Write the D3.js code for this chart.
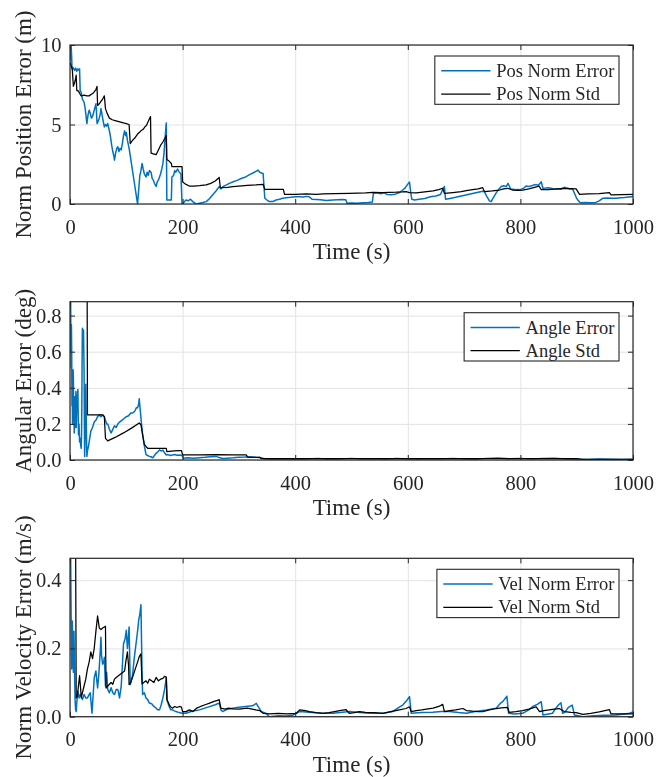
<!DOCTYPE html>
<html>
<head>
<meta charset="utf-8">
<script src="https://cdn.jsdelivr.net/npm/d3@7"></script>
<style>
  html, body { margin: 0; padding: 0; background: #fff; }
  svg { display: block; filter: blur(0.3px); }
  text { font-family: "Liberation Serif", "Times New Roman", serif; fill: #262626; }
</style>
</head>
<body>
<svg id="chart" width="656" height="777"></svg>
<script>
// ---- shared axis settings ----
const timeDomain = [0, 1000];
const timeTicks = [0, 200, 400, 600, 800, 1000];
const xLabel = "Time (s)";

// ---- panel 1: position ----
const posTicks = [0, 5, 10];
const posDomain = [0, 10];
const posLabel = "Norm Position Error (m)";
const posNames = ["Pos Norm Error", "Pos Norm Std"];
const posError = [[0,9.0],[1,9.6],[2,10.0],[3,9.2],[3.5,8.5],[5,8.6],[8,8.4],[10,8.55],[12,8.35],[14,8.5],[16,8.4],[17,8.5],[18,7.15],[20,7.0],[22,6.6],[25,6.4],[27,6.0],[30,5.06],[32,5.6],[34,5.9],[36,5.7],[38,5.4],[40,5.5],[43,5.9],[46,6.3],[47,5.8],[48,5.06],[50,5.2],[52,5.4],[54,5.7],[55,6.0],[57,5.6],[59,5.2],[61,4.85],[63,5.0],[65,4.9],[67,5.06],[70,4.6],[72,4.2],[74,3.7],[76,3.3],[78,3.0],[79,2.76],[81,3.2],[83,3.5],[85,3.6],[87,3.3],[89,3.5],[91,3.4],[93,3.8],[95,4.3],[97,4.6],[99,4.3],[100,4.5],[102,4.0],[105,3.5],[108,2.8],[111,2.1],[114,1.4],[117,0.7],[120,0.0],[122,0.9],[124,1.8],[126,2.1],[128,2.55],[130,2.2],[132,1.9],[135,1.7],[137,2.0],[139,1.8],[141,2.1],[144,2.0],[146,1.6],[148,1.5],[150,1.3],[153,1.1],[155,1.4],[157,1.5],[159,1.7],[161,1.9],[163,2.2],[165,2.55],[167,3.2],[169,4.2],[171,5.1],[172,0.25],[180,0.25],[181,1.7],[184,1.8],[186,2.1],[188,2.0],[191,2.2],[194,2.0],[197,1.9],[199,0.0],[202,0.1],[206,0.25],[210,0.2],[214,0.3],[218,0.15],[222,0.05],[224,0.0],[230,0.05],[236,0.1],[242,0.15],[248,0.35],[254,0.6],[260,0.85],[265,1.09],[268,0.95],[272,1.1],[278,1.2],[283,1.3],[290,1.4],[298,1.5],[305,1.62],[312,1.7],[319,1.85],[325,1.95],[330,2.05],[334,2.13],[337,2.0],[340,1.95],[343,1.92],[346,0.36],[350,0.25],[354,0.15],[360,0.15],[366,0.25],[372,0.3],[378,0.36],[384,0.4],[392,0.42],[400,0.45],[408,0.46],[415,0.44],[420,0.48],[425,0.45],[430,0.3],[437,0.29],[445,0.27],[455,0.22],[467,0.25],[475,0.27],[484,0.28],[490,0.26],[492,0.05],[500,0.07],[510,0.05],[520,0.08],[530,0.1],[537,0.12],[539,0.68],[545,0.7],[552,0.65],[558,0.7],[563,0.6],[570,0.58],[578,0.62],[585,0.72],[590,0.85],[595,1.0],[600,1.25],[603,1.38],[605,0.8],[607,0.3],[612,0.25],[620,0.3],[630,0.35],[640,0.45],[650,0.5],[658,0.6],[662,0.9],[665,1.1],[667,0.3],[675,0.35],[685,0.42],[695,0.5],[705,0.58],[715,0.66],[725,0.74],[733,0.8],[736,0.78],[740,0.5],[745,0.2],[748,0.15],[752,0.4],[757,0.7],[762,0.95],[766,1.1],[770,1.15],[775,1.1],[778,1.3],[780,1.15],[783,0.92],[787,0.93],[792,0.9],[796,0.92],[799,0.88],[803,0.95],[806,1.0],[810,1.13],[815,1.1],[820,1.15],[824,1.2],[828,1.22],[832,1.18],[835,1.3],[837,1.4],[840,0.99],[845,1.0],[850,1.02],[858,0.96],[865,0.95],[872,0.92],[875,1.0],[878,1.05],[882,1.0],[888,0.95],[893,0.92],[897,0.6],[900,0.35],[902,0.25],[905,0.12],[908,0.08],[915,0.09],[925,0.08],[934,0.1],[940,0.2],[946,0.36],[955,0.37],[963,0.36],[970,0.36],[978,0.4],[985,0.41],[992,0.44],[997,0.46],[1000,0.47]];
const posStd = [[0,8.9],[2,8.7],[4,8.5],[6,7.4],[8,7.6],[10,7.9],[11,8.1],[12,7.15],[15,7.1],[18,6.9],[20,6.8],[25,6.85],[30,6.8],[34,6.8],[38,6.9],[42,7.0],[46,7.2],[48,7.4],[49,6.2],[52,6.3],[55,6.45],[58,6.6],[61,6.8],[63,6.0],[66,5.7],[70,5.4],[75,5.3],[80,5.25],[85,5.2],[90,5.15],[95,5.1],[100,5.06],[105,5.0],[107,3.8],[110,3.95],[115,4.15],[120,4.4],[123,4.5],[126,4.6],[130,4.7],[133,4.85],[136,4.95],[139,5.2],[143,5.5],[144,3.2],[148,3.15],[153,3.1],[157,3.4],[161,3.7],[165,3.9],[168,4.1],[171,4.3],[172,2.8],[176,2.7],[180,2.55],[181,2.35],[190,2.35],[199,2.35],[200,1.4],[205,1.25],[212,1.13],[220,1.12],[230,1.15],[242,1.2],[250,1.3],[258,1.45],[265,1.67],[267,1.03],[280,1.05],[289,1.09],[300,1.12],[315,1.17],[330,1.2],[343,1.24],[346,0.92],[360,0.92],[379,0.92],[381,0.61],[400,0.61],[420,0.63],[437,0.61],[450,0.63],[470,0.65],[496,0.67],[510,0.68],[525,0.7],[538,0.73],[555,0.72],[579,0.74],[590,0.76],[597,0.78],[603,0.72],[615,0.7],[630,0.76],[645,0.82],[655,0.9],[662,0.99],[665,0.67],[680,0.72],[695,0.78],[704,0.84],[715,0.9],[725,0.95],[733,1.03],[736,0.78],[750,0.82],[763,0.88],[770,0.95],[777,0.99],[786,0.88],[795,0.85],[804,0.87],[815,0.95],[825,1.05],[833,1.13],[837,0.9],[850,0.9],[865,0.95],[878,0.99],[890,0.97],[899,0.95],[905,0.61],[920,0.63],[940,0.66],[958,0.71],[961,0.57],[980,0.59],[1000,0.61]];

// ---- panel 2: attitude ----
const angTicks = [0, 0.2, 0.4, 0.6, 0.8];
const angDomain = [0, 0.877];
const angLabel = "Angular Error (deg)";
const angNames = ["Angle Error", "Angle Std"];
const angError = [[0,1.2],[0.5,0.6],[1,0.95],[1.5,0.7],[2,0.51],[2.5,0.75],[3,0.6],[3.5,0.3],[4,0.4],[4.5,0.2],[5,0.33],[5.5,0.5],[6,0.45],[6.5,0.25],[7,0.3],[7.5,0.15],[8,0.21],[8.5,0.35],[9,0.3],[9.5,0.18],[10,0.25],[10.5,0.38],[11,0.18],[12,0.3],[13,0.35],[14,0.39],[14.5,0.25],[15,0.14],[16,0.2],[17,0.1],[18,0.12],[19,0.08],[20,0.065],[20.5,0.15],[21,0.3],[21.5,0.55],[22,0.73],[23,0.68],[24,0.72],[24.5,0.6],[25,0.5],[25.5,0.2],[26,0.02],[26.5,0.1],[27,0.2],[27.5,0.3],[28,0.42],[28.5,0.3],[29,0.2],[29.5,0.08],[30,0.02],[31,0.05],[33,0.08],[35,0.12],[37,0.16],[40,0.18],[43,0.21],[46,0.22],[49,0.24],[52,0.25],[55,0.24],[58,0.25],[61,0.24],[63,0.22],[65,0.2],[67,0.2],[70,0.17],[73,0.15],[76,0.17],[79,0.19],[82,0.18],[85,0.2],[88,0.21],[92,0.22],[96,0.23],[100,0.24],[104,0.245],[108,0.26],[111,0.26],[115,0.27],[118,0.29],[120,0.29],[122,0.31],[123,0.34],[124,0.3],[125,0.27],[127,0.2],[129,0.14],[132,0.08],[135,0.03],[138,0.025],[141,0.02],[144,0.018],[147,0.012],[150,0.025],[153,0.037],[156,0.045],[159,0.056],[162,0.05],[165,0.055],[168,0.04],[171,0.028],[174,0.03],[178,0.025],[182,0.028],[186,0.03],[190,0.026],[195,0.028],[199,0.025],[201,0.01],[210,0.012],[220,0.01],[230,0.013],[240,0.015],[250,0.018],[260,0.02],[266,0.012],[271,0.008],[280,0.01],[290,0.012],[300,0.015],[310,0.016],[319,0.018],[330,0.015],[337,0.014],[342,0.01],[348,0.005],[365,0.004],[380,0.006],[400,0.003],[420,0.005],[440,0.008],[460,0.004],[480,0.006],[500,0.009],[520,0.005],[540,0.007],[560,0.004],[580,0.008],[600,0.006],[620,0.004],[640,0.007],[660,0.005],[680,0.008],[700,0.006],[720,0.004],[740,0.009],[760,0.011],[780,0.007],[800,0.009],[820,0.006],[840,0.008],[860,0.01],[880,0.006],[900,0.004],[920,0.003],[940,0.005],[960,0.004],[980,0.003],[1000,0.004]];
const angStd = [[0,1.5],[30,1.5],[31,0.25],[40,0.25],[50,0.25],[58,0.25],[61,0.24],[63,0.12],[67,0.106],[80,0.125],[95,0.15],[110,0.178],[123,0.205],[126,0.195],[129,0.14],[132,0.087],[135,0.075],[138,0.065],[150,0.064],[160,0.065],[171,0.065],[172,0.047],[185,0.05],[194,0.052],[198,0.052],[200,0.028],[230,0.028],[260,0.03],[290,0.028],[313,0.028],[316,0.015],[337,0.015],[340,0.0075],[400,0.007],[500,0.007],[600,0.008],[700,0.007],[800,0.008],[900,0.007],[910,0.004],[1000,0.004]];

// ---- panel 3: velocity ----
const velTicks = [0, 0.2, 0.4];
const velDomain = [0, 0.464];
const velLabel = "Norm Velocity Error (m/s)";
const velNames = ["Vel Norm Error", "Vel Norm Std"];
const velError = [[0,0.6],[1,0.5],[2,0.29],[3,0.14],[4,0.28],[5,0.2],[6,0.13],[7,0.25],[8,0.14],[9,0.05],[10,0.02],[11,0.015],[12,0.04],[14,0.075],[16,0.055],[18,0.065],[20,0.06],[22,0.05],[25,0.065],[28,0.055],[31,0.055],[34,0.065],[36,0.07],[38,0.03],[39,0.01],[41,0.06],[43,0.114],[46,0.134],[48,0.1],[49,0.084],[51,0.12],[52,0.144],[54,0.2],[55,0.233],[56,0.18],[58,0.154],[60,0.16],[61,0.174],[63,0.09],[65,0.13],[67,0.08],[70,0.07],[73,0.085],[76,0.07],[79,0.065],[82,0.08],[85,0.08],[88,0.055],[91,0.09],[93,0.15],[95,0.213],[98,0.23],[100,0.253],[102,0.2],[104,0.24],[105,0.263],[107,0.094],[109,0.11],[111,0.12],[114,0.17],[117,0.21],[120,0.25],[122,0.283],[124,0.3],[126,0.328],[128,0.124],[129,0.065],[132,0.07],[135,0.055],[138,0.05],[141,0.04],[145,0.038],[149,0.03],[153,0.025],[156,0.02],[159,0.02],[162,0.035],[165,0.055],[168,0.08],[171,0.114],[173,0.045],[176,0.03],[179,0.02],[182,0.02],[188,0.015],[194,0.012],[199,0.01],[206,0.01],[215,0.015],[230,0.02],[245,0.028],[258,0.035],[265,0.04],[268,0.02],[271,0.015],[280,0.022],[289,0.025],[300,0.028],[312,0.03],[324,0.032],[331,0.039],[334,0.03],[340,0.015],[348,0.01],[354,0.0],[370,0.003],[385,0.002],[396,0.005],[408,0.015],[430,0.012],[450,0.01],[467,0.01],[480,0.012],[496,0.015],[515,0.012],[530,0.01],[545,0.01],[556,0.01],[573,0.015],[585,0.028],[591,0.034],[597,0.045],[603,0.059],[606,0.01],[625,0.012],[644,0.013],[660,0.015],[674,0.015],[690,0.012],[704,0.01],[720,0.015],[740,0.02],[757,0.025],[765,0.04],[769,0.045],[776,0.06],[779,0.01],[790,0.008],[804,0.01],[815,0.02],[822,0.03],[830,0.036],[837,0.044],[840,0.005],[850,0.008],[857,0.01],[863,0.025],[868,0.035],[872,0.041],[875,0.01],[880,0.015],[884,0.025],[888,0.03],[892,0.034],[896,0.005],[911,0.0],[930,0.003],[950,0.004],[970,0.005],[985,0.008],[994,0.01],[1000,0.014]];
const velStd = [[0,1.0],[9,1.0],[10,0.5],[11,0.055],[13,0.06],[15,0.09],[17,0.12],[19,0.08],[20,0.055],[22,0.07],[25,0.09],[28,0.11],[31,0.14],[34,0.16],[37,0.19],[40,0.17],[43,0.2],[46,0.25],[49,0.295],[52,0.26],[55,0.255],[58,0.26],[61,0.263],[63,0.265],[64,0.084],[67,0.09],[70,0.095],[73,0.1],[76,0.095],[79,0.11],[82,0.115],[86,0.12],[90,0.125],[94,0.13],[97,0.134],[99,0.16],[102,0.19],[104,0.15],[105,0.094],[108,0.1],[112,0.12],[116,0.14],[120,0.16],[123,0.176],[126,0.184],[128,0.096],[131,0.1],[135,0.105],[138,0.098],[141,0.11],[145,0.105],[149,0.1],[153,0.115],[157,0.105],[161,0.11],[165,0.112],[168,0.118],[171,0.116],[172,0.05],[175,0.04],[178,0.03],[182,0.025],[186,0.03],[190,0.027],[194,0.03],[198,0.028],[200,0.015],[206,0.015],[212,0.02],[218,0.015],[225,0.025],[232,0.03],[240,0.035],[248,0.04],[256,0.045],[262,0.048],[265,0.05],[268,0.025],[275,0.022],[282,0.025],[289,0.023],[300,0.022],[315,0.025],[330,0.02],[337,0.018],[343,0.01],[354,0.008],[370,0.01],[385,0.008],[402,0.01],[408,0.02],[418,0.018],[425,0.015],[437,0.012],[449,0.01],[460,0.012],[470,0.015],[479,0.018],[490,0.021],[496,0.01],[505,0.012],[514,0.015],[525,0.013],[540,0.012],[556,0.01],[570,0.015],[585,0.02],[597,0.024],[603,0.029],[606,0.015],[615,0.018],[625,0.02],[633,0.022],[645,0.025],[655,0.03],[662,0.036],[665,0.015],[675,0.018],[685,0.02],[698,0.024],[704,0.018],[715,0.016],[725,0.015],[733,0.015],[745,0.02],[757,0.024],[766,0.026],[777,0.027],[780,0.013],[792,0.015],[804,0.018],[815,0.022],[822,0.026],[828,0.029],[834,0.015],[842,0.018],[851,0.02],[860,0.022],[869,0.024],[878,0.015],[890,0.013],[899,0.012],[911,0.007],[925,0.01],[940,0.014],[950,0.018],[958,0.021],[961,0.008],[980,0.008],[998,0.008],[1000,0.008]];

// ---- styling ----
const errColor = "#0072BD";
const stdColor = "#000000";
const axisColor = "#262626";
const gridColor = "#e3e3e3";
const serif = '"Liberation Serif", "Times New Roman", serif';

const svg = d3.select("#chart");
const left = 70, right = 633;

const panels = [
  { top: 45,    bottom: 204,   domain: posDomain, ticks: posTicks, label: posLabel, names: posNames, err: posError, std: posStd, fmt: d3.format("d") },
  { top: 301.7, bottom: 460,   domain: angDomain, ticks: angTicks, label: angLabel, names: angNames, err: angError, std: angStd, fmt: d3.format(".1f") },
  { top: 558.3, bottom: 716.7, domain: velDomain, ticks: velTicks, label: velLabel, names: velNames, err: velError, std: velStd, fmt: d3.format(".1f") }
];

panels.forEach((p, i) => {
  const x = d3.scaleLinear().domain(timeDomain).range([left, right]);
  const y = d3.scaleLinear().domain(p.domain).range([p.bottom, p.top]);
  const w = right - left, h = p.bottom - p.top;
  const g = svg.append("g");

  // grid
  g.append("g").attr("transform", `translate(0,${p.bottom})`)
    .call(d3.axisBottom(x).tickValues(timeTicks).tickSize(-h).tickFormat(""))
    .call(s => { s.select(".domain").remove(); s.selectAll("line").attr("stroke", gridColor); });
  g.append("g").attr("transform", `translate(${left},0)`)
    .call(d3.axisLeft(y).tickValues(p.ticks).tickSize(-w).tickFormat(""))
    .call(s => { s.select(".domain").remove(); s.selectAll("line").attr("stroke", gridColor); });

  // data lines, clipped to the axes box
  const clipId = "clip" + i;
  svg.append("clipPath").attr("id", clipId)
    .append("rect").attr("x", left).attr("y", p.top).attr("width", w).attr("height", h);
  const line = d3.line().x(d => x(d[0])).y(d => y(d[1]));
  const lines = g.append("g").attr("clip-path", `url(#${clipId})`);
  lines.append("path").datum(p.err).attr("d", line)
    .attr("fill", "none").attr("stroke", errColor).attr("stroke-width", 1.5).attr("stroke-linejoin", "round");
  lines.append("path").datum(p.std).attr("d", line)
    .attr("fill", "none").attr("stroke", stdColor).attr("stroke-width", 1.25).attr("stroke-linejoin", "round");

  // axes with inward ticks
  const styleAxis = s => {
    s.attr("font-family", serif).attr("font-size", 20.5);
    s.select(".domain").remove();
    s.selectAll("line").attr("stroke", axisColor);
    s.selectAll("text").attr("fill", axisColor).style("font-family", serif);
  };
  g.append("g").attr("transform", `translate(0,${p.bottom})`)
    .call(d3.axisBottom(x).tickValues(timeTicks).tickSize(-5).tickPadding(15).tickFormat(d3.format("d")))
    .call(styleAxis);
  g.append("g").attr("transform", `translate(0,${p.top})`)
    .call(d3.axisTop(x).tickValues(timeTicks).tickSize(-5).tickFormat(""))
    .call(styleAxis);
  g.append("g").attr("transform", `translate(${left},0)`)
    .call(d3.axisLeft(y).tickValues(p.ticks).tickSize(-5).tickPadding(8.5).tickFormat(p.fmt))
    .call(styleAxis);
  g.append("g").attr("transform", `translate(${right},0)`)
    .call(d3.axisRight(y).tickValues(p.ticks).tickSize(-5).tickFormat(""))
    .call(styleAxis);

  g.append("rect").attr("x", left).attr("y", p.top).attr("width", w).attr("height", h)
    .attr("fill", "none").attr("stroke", axisColor).attr("stroke-width", 1.2);

  // axis labels
  g.append("text").attr("x", (left + right) / 2).attr("y", p.bottom + 55)
    .attr("text-anchor", "middle").attr("font-size", 23).text(xLabel);
  g.append("text").attr("transform", `translate(31,${(p.top + p.bottom) / 2}) rotate(-90)`)
    .attr("text-anchor", "middle").attr("font-size", 23).text(p.label);

  // legend
  const lg = g.append("g");
  const boxRight = right - 14, boxTop = p.top + 11;
  const rowH = 23.3;
  const box = lg.append("rect").attr("fill", "#fff").attr("stroke", axisColor).attr("stroke-width", 1.1);
  const texts = p.names.map((n, k) => lg.append("text").attr("font-size", 18.5)
    .attr("y", boxTop + 14.7 + k * rowH).attr("dy", "0.33em").text(n));
  const tw = d3.max(texts, t => t.node().getComputedTextLength());
  const textX = boxRight - 4.6 - tw;
  texts.forEach(t => t.attr("x", textX));
  const lineX0 = textX - 55, lineX1 = textX - 5.7;
  [errColor, stdColor].forEach((c, k) => {
    lg.append("line").attr("x1", lineX0).attr("x2", lineX1)
      .attr("y1", boxTop + 14.7 + k * rowH).attr("y2", boxTop + 14.7 + k * rowH)
      .attr("stroke", c).attr("stroke-width", k === 0 ? 1.5 : 1.25);
  });
  const boxLeft = lineX0 - 6.4;
  box.attr("x", boxLeft).attr("y", boxTop).attr("width", boxRight - boxLeft).attr("height", 48.3);
});
</script>
</body>
</html>
